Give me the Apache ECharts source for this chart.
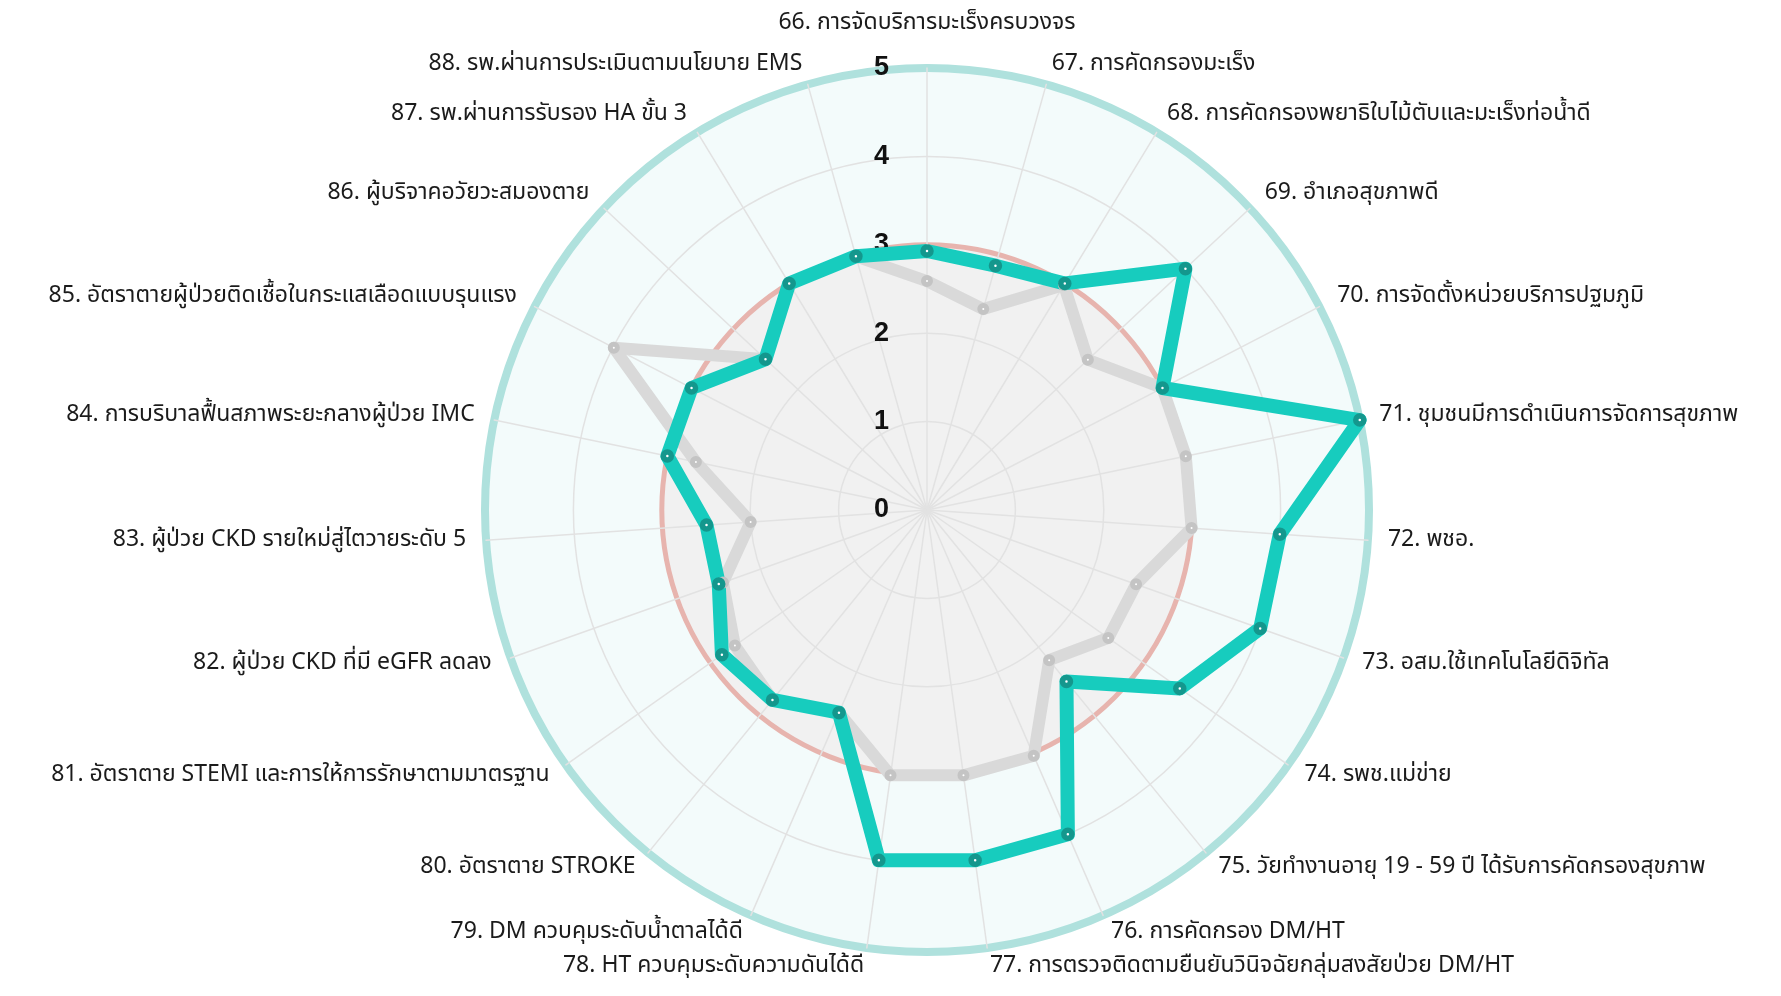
<!DOCTYPE html>
<html>
<head>
<meta charset="utf-8">
<title>Radar ตัวชี้วัด 66-88</title>
<script src="https://cdn.jsdelivr.net/npm/echarts@6/dist/echarts.min.js"></script>
<style>
  html, body { margin: 0; padding: 0; background: #ffffff; }
  #myChart { width: 1781px; height: 996px; }
</style>
</head>
<body>
<div id="myChart"></div>
<script>
// ตัวชี้วัด เรียงตามเข็มนาฬิกา เริ่มจากด้านบน
const indicators = [
  '66. การจัดบริการมะเร็งครบวงจร',
  '67. การคัดกรองมะเร็ง',
  '68. การคัดกรองพยาธิใบไม้ตับและมะเร็งท่อน้ำดี',
  '69. อำเภอสุขภาพดี',
  '70. การจัดตั้งหน่วยบริการปฐมภูมิ',
  '71. ชุมชนมีการดำเนินการจัดการสุขภาพ',
  '72. พชอ.',
  '73. อสม.ใช้เทคโนโลยีดิจิทัล',
  '74. รพช.แม่ข่าย',
  '75. วัยทำงานอายุ 19 - 59 ปี ได้รับการคัดกรองสุขภาพ',
  '76. การคัดกรอง DM/HT',
  '77. การตรวจติดตามยืนยันวินิจฉัยกลุ่มสงสัยป่วย DM/HT',
  '78. HT ควบคุมระดับความดันได้ดี',
  '79. DM ควบคุมระดับน้ำตาลได้ดี',
  '80. อัตราตาย STROKE',
  '81. อัตราตาย STEMI และการให้การรักษาตามมาตรฐาน',
  '82. ผู้ป่วย CKD ที่มี eGFR ลดลง',
  '83. ผู้ป่วย CKD รายใหม่สู่ไตวายระดับ 5',
  '84. การบริบาลฟื้นสภาพระยะกลางผู้ป่วย IMC',
  '85. อัตราตายผู้ป่วยติดเชื้อในกระแสเลือดแบบรุนแรง',
  '86. ผู้บริจาคอวัยวะสมองตาย',
  '87. รพ.ผ่านการรับรอง HA ขั้น 3',
  '88. รพ.ผ่านการประเมินตามนโยบาย EMS'
]

// คะแนน (เส้นสีเขียว)
const scoreNow = [2.93, 2.87, 3.0, 4.0, 3.0, 5.0, 4.0, 4.0, 3.5, 2.5, 4.0, 4.0,
  4.0, 2.5, 2.77, 2.84, 2.5, 2.5, 3.0, 3.0, 2.5, 3.0, 2.98]

// คะแนนเดิม (เส้นสีเทา)
const scoreBase = [2.59, 2.36, 2.98, 2.49, 3.0, 2.99, 3.0, 2.51, 2.51, 2.19, 3.03, 3.03,
  3.03, 2.5, 2.77, 2.66, 2.45, 2.0, 2.67, 3.99, 2.5, 3.0, 2.98]

const scaleMin = 0
const scaleMax = 5
const targetLevel = 3   // วงสีแดง

const center = [927, 510]
const radius = 442
const ticks = [0, 1, 2, 3, 4, 5]

// echarts วางตัวชี้วัดทวนเข็มนาฬิกา -> กลับลำดับ (ยกเว้นตัวแรก)
const order = [0].concat(indicators.map((_, i) => i).slice(1).reverse())

const fontFamily = "'Noto Sans Thai', 'Noto Sans', 'DejaVu Sans', sans-serif"

// เส้นวงกลมเฉพาะระดับที่ต้องการ
function ringRadar (level, color, width) {
  return {
    center: center,
    radius: radius,
    shape: 'circle',
    splitNumber: ticks.length - 1,
    silent: true,
    indicator: order.map(() => ({ min: scaleMin, max: scaleMax })),
    axisName: { show: false },
    axisLine: { show: false },
    axisTick: { show: false },
    axisLabel: { show: false },
    splitArea: { show: false },
    splitLine: {
      lineStyle: {
        color: ticks.map(t => (t === level ? color : 'rgba(0,0,0,0)')),
        width: width
      }
    }
  }
}

const myChart = echarts.init(document.getElementById('myChart'))

myChart.setOption({
  backgroundColor: '#ffffff',
  animation: false,
  radar: [
    {
      center: center,
      radius: radius,
      shape: 'circle',
      startAngle: 90,
      splitNumber: ticks.length - 1,
      nameGap: 20,
      indicator: order.map((k, j) => {
        const ind = { name: indicators[k], min: scaleMin, max: scaleMax }
        if (j === 0) {
          ind.nameGap = 32
          ind.axisLabel = { show: true }
        }
        return ind
      }),
      axisName: {
        color: '#1b1b1b',
        fontSize: 23,
        fontFamily: fontFamily
      },
      axisLine: { lineStyle: { color: '#e2e2e2', width: 1.5 } },
      splitLine: { lineStyle: { color: '#e2e2e2', width: 1.5 } },
      splitArea: {
        show: true,
        areaStyle: {
          color: ticks.slice(1).map(t => (t <= targetLevel ? '#f1f1f1' : '#f3fbfb'))
        }
      },
      axisLabel: {
        show: false,
        color: '#111111',
        fontSize: 27,
        fontWeight: 'bold',
        fontFamily: 'Liberation Sans, Arial, sans-serif',
        margin: 38
      }
    },
    ringRadar(targetLevel, '#e7b4ae', 5),
    ringRadar(scaleMax, '#afe1dd', 8)
  ],
  series: [
    {
      type: 'radar',
      radarIndex: 0,
      silent: true,
      data: [
        {
          name: 'base',
          value: order.map(k => scoreBase[k]),
          symbol: 'circle',
          symbolSize: 7,
          lineStyle: { color: '#d9d9d9', width: 12 },
          itemStyle: { color: '#ffffff', borderColor: '#c4c4c4', borderWidth: 5 }
        },
        {
          name: 'now',
          value: order.map(k => scoreNow[k]),
          symbol: 'circle',
          symbolSize: 8,
          lineStyle: { color: '#17ccbe', width: 14 },
          itemStyle: { color: '#ffffff', borderColor: '#14978d', borderWidth: 5.5 }
        }
      ]
    }
  ]
})
</script>
</body>
</html>
